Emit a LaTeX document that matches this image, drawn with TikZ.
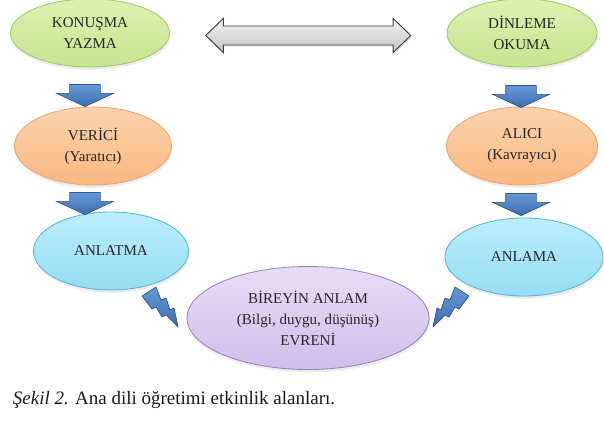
\documentclass[tikz,border=0pt]{standalone}
\usepackage{fontspec}
\setmainfont{Liberation Serif}
\usetikzlibrary{positioning, calc, shapes.geometric, shapes.arrows, shadows}

\definecolor{limetop}{HTML}{DBF1B0}
\definecolor{limebot}{HTML}{C6E592}
\definecolor{limeline}{HTML}{A3C66A}
\definecolor{peachtop}{HTML}{FCD3AE}
\definecolor{peachbot}{HTML}{F9B880}
\definecolor{peachline}{HTML}{F2A262}
\definecolor{skytop}{HTML}{BCEEFB}
\definecolor{skybot}{HTML}{94DDF3}
\definecolor{skyline}{HTML}{5AB6D2}
\definecolor{lilactop}{HTML}{E8DDF6}
\definecolor{lilacbot}{HTML}{D1BDEA}
\definecolor{lilacline}{HTML}{9A82C2}
\definecolor{bluetop}{HTML}{6699D8}
\definecolor{bluebot}{HTML}{3D6CAD}
\definecolor{blueline}{HTML}{2F558A}
\definecolor{graytop}{HTML}{F4F4F4}
\definecolor{graybot}{HTML}{C2C2C2}

\begin{document}
\begin{tikzpicture}[
    x=0.025cm, y=-0.025cm,
    oval/.style={ellipse, line width=0.6pt, align=center, inner sep=0pt,
        font=\fontsize{10.7}{15}\selectfont, text=black!85,
        drop shadow={shadow xshift=0.6pt, shadow yshift=-2pt, opacity=0.15}},
    lime/.style={oval, draw=limeline, top color=limetop, bottom color=limebot},
    peach/.style={oval, draw=peachline, top color=peachtop, bottom color=peachbot},
    sky/.style={oval, draw=skyline, top color=skytop, bottom color=skybot},
    lilac/.style={oval, draw=lilacline, top color=lilactop, bottom color=lilacbot},
    fatdown/.style={single arrow, shape border rotate=270, draw=blueline, line width=0.5pt,
        top color=bluetop, bottom color=bluebot, inner xsep=0.375cm, inner ysep=0pt,
        minimum height=0.55cm, minimum width=1.4cm,
        single arrow head extend=0.325cm, single arrow tip angle=130},
    twoway/.style={double arrow, draw=black!75, line width=0.7pt,
        top color=graytop, bottom color=graybot, inner sep=0.225cm,
        minimum height=5.125cm, minimum width=0.825cm,
        double arrow head extend=0.1875cm, double arrow tip angle=88,
        drop shadow={shadow xshift=0.6pt, shadow yshift=-1.5pt, opacity=0.2}},
    bolt/.style={draw=blueline, line width=0.5pt, top color=bluetop, bottom color=bluebot,
        line join=round}
]
\useasboundingbox (0,0) rectangle (604,427);

\node[lime, minimum width=3.975cm, minimum height=1.7cm] (konusma) at (90,33) {KONUŞMA\\YAZMA};
\node[lime, minimum width=3.75cm, minimum height=1.7cm] (dinleme) at (522,33) {DİNLEME\\OKUMA};
\node[peach, minimum width=3.925cm, minimum height=1.95cm] (verici) at (93,146) {VERİCİ\\(Yaratıcı)};
\node[peach, minimum width=3.775cm, minimum height=1.95cm] (alici) at (522,146) {ALICI\\(Kavrayıcı)};
\node[sky, minimum width=3.875cm, minimum height=1.95cm] (anlatma) at (111,251) {ANLATMA};
\node[sky, minimum width=3.95cm, minimum height=1.95cm] (anlama) at (524,257) {ANLAMA};
\node[lilac, minimum width=6.05cm, minimum height=2.575cm] (bireyin) at (308,318)
    {BİREYİN ANLAM\\(Bilgi, duygu, düşünüş)\\EVRENİ};

% connecting arrows
\node[twoway] (iki) at ($(konusma.east)!.5!(dinleme.west)+(0,2.5)$) {};
\node[fatdown] (ok1) at (85,92) {};
\node[fatdown] (ok2) at (85,200) {};
\node[fatdown] (ok3) at (521,93) {};
\node[fatdown] (ok4) at (521,201) {};

% lightning
\path[bolt] (142,296) -- (156,287) -- (161,300) -- (166,298) -- (170,310) -- (174,308)
    -- (178,327) -- (166,315) -- (162,317) -- (156,307) -- (152,309) -- cycle;
\path[bolt] (469,296) -- (455,287) -- (450,300) -- (445,298) -- (441,310) -- (437,308)
    -- (433,327) -- (445,315) -- (449,317) -- (455,307) -- (459,309) -- cycle;

\node[anchor=base west, font=\fontsize{13.5}{16}\selectfont, text=black!90] (caption) at (8,404)
    {\textit{Şekil 2.} Ana dili öğretimi etkinlik alanları.};
\end{tikzpicture}
\end{document}
